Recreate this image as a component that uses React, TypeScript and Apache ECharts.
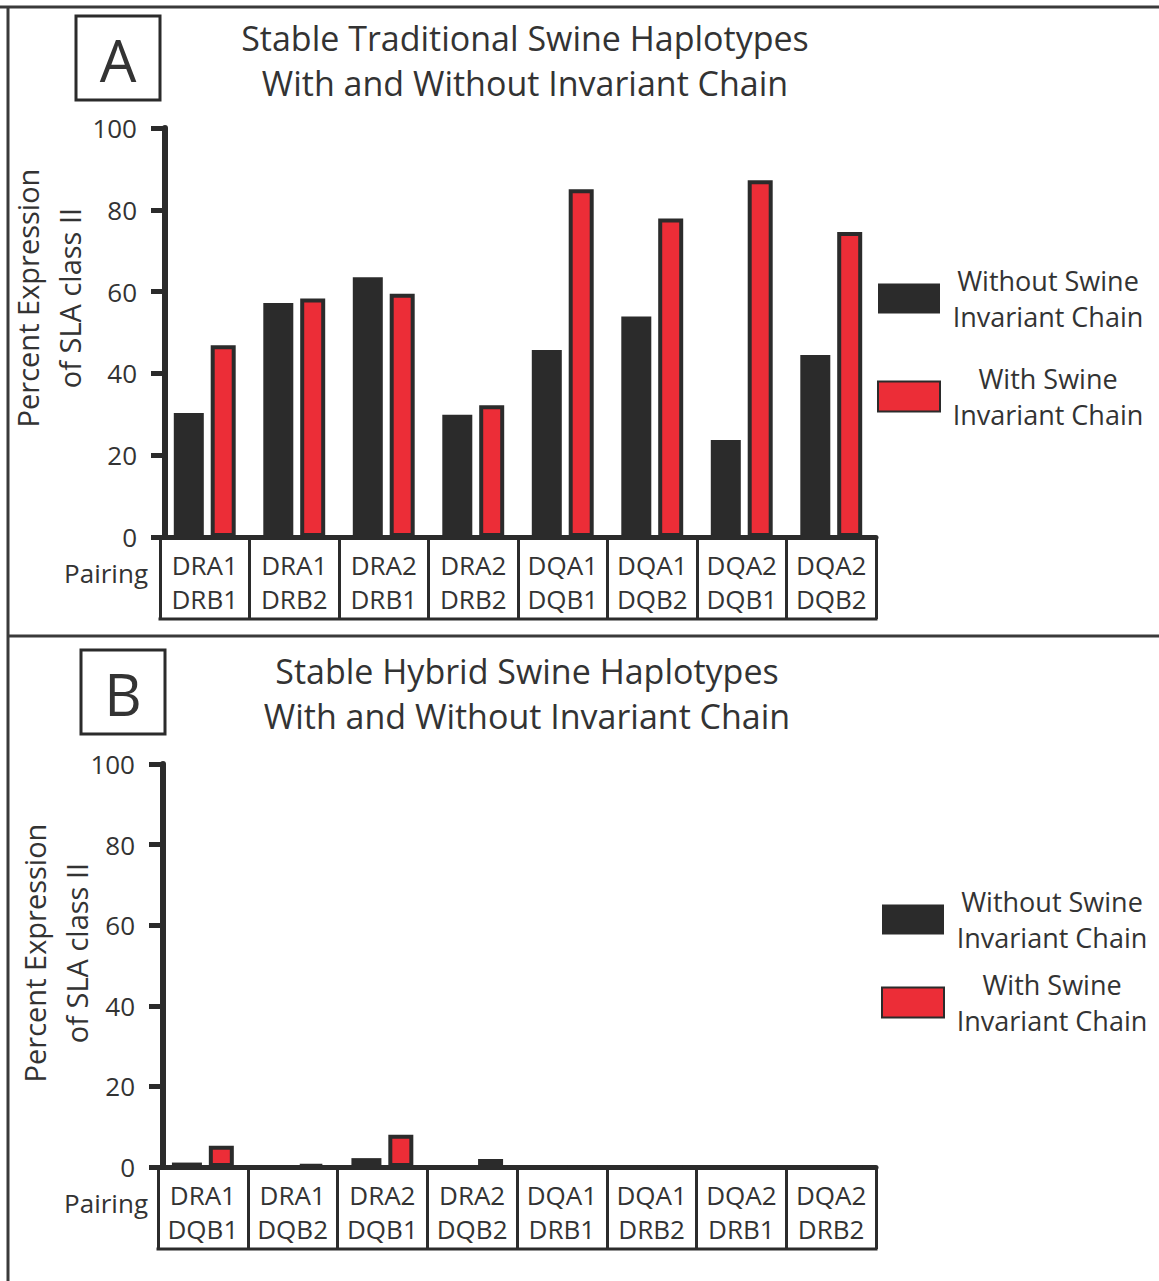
import React, { useEffect, useRef } from "react";
import * as echarts from "echarts";

const FONT = "'Open Sans', 'Noto Sans', sans-serif";
const TXT = "#333333";
const DARK = "#2b2b2b";
const RED = "#ec2d37";

const SERIES_WITHOUT = "Without Swine Invariant Chain";
const SERIES_WITH = "With Swine Invariant Chain";
const LEGEND_LINES: Record<string, string[]> = {
  [SERIES_WITHOUT]: ["Without Swine", "Invariant Chain"],
  [SERIES_WITH]: ["With Swine", "Invariant Chain"],
};

const titleA = "Stable Traditional Swine Haplotypes\nWith and Without Invariant Chain";
const titleB = "Stable Hybrid Swine Haplotypes\nWith and Without Invariant Chain";

const categoriesA = ["DRA1\nDRB1", "DRA1\nDRB2", "DRA2\nDRB1", "DRA2\nDRB2", "DQA1\nDQB1", "DQA1\nDQB2", "DQA2\nDQB1", "DQA2\nDQB2"];
const withoutA = [30.3, 57.2, 63.5, 29.9, 45.7, 53.9, 23.7, 44.5];
const withA = [46.9, 58.3, 59.5, 32.2, 85.0, 77.9, 87.2, 74.6];

const categoriesB = ["DRA1\nDQB1", "DRA1\nDQB2", "DRA2\nDQB1", "DRA2\nDQB2", "DQA1\nDRB1", "DQA1\nDRB2", "DQA2\nDRB1", "DQA2\nDRB2"];
const withoutB = [1.1, 0, 2.2, 0, 0, 0, 0, 0];
const withB = [5.3, 0.6, 8.0, 2.0, 0, 0, 0, 0];

const yTicks = { min: 0, max: 100, interval: 20 };
const yName = "Percent Expression\nof SLA class II";
const pairingLabel = "Pairing";

const W = 1159;
const H = 1281;

const gridA = { left: 160, top: 128, width: 716, height: 409 };
const gridB = { left: 158, top: 764, width: 718, height: 403 };
const BOX_H = 82;

function xAxisFor(gridIndex: number, data: string[]) {
  return {
    type: "category",
    gridIndex,
    data,
    axisLine: { lineStyle: { color: DARK, width: 5 } },
    axisTick: { show: true, length: BOX_H, interval: 0, lineStyle: { color: DARK, width: 3 } },
    axisLabel: {
      interval: 0,
      margin: 11,
      fontSize: 26,
      lineHeight: 34,
      color: TXT,
      fontFamily: FONT,
    },
    splitLine: { show: false },
  };
}

function yAxisFor(gridIndex: number) {
  return {
    type: "value",
    gridIndex,
    min: yTicks.min,
    max: yTicks.max,
    interval: yTicks.interval,
    offset: -5,
    axisLine: { show: true, lineStyle: { color: DARK, width: 6 } },
    axisTick: { show: true, length: 14, lineStyle: { color: DARK, width: 5 } },
    axisLabel: { fontSize: 26, color: TXT, fontFamily: FONT, margin: 28 },
    splitLine: { show: false },
  };
}

function barsFor(idx: number, without: number[], withv: number[]) {
  return [
    {
      type: "bar",
      name: SERIES_WITHOUT,
      xAxisIndex: idx,
      yAxisIndex: idx,
      data: without,
      barWidth: 30,
      barGap: "23%",
      itemStyle: { color: DARK },
    },
    {
      type: "bar",
      name: SERIES_WITH,
      xAxisIndex: idx,
      yAxisIndex: idx,
      data: withv,
      barWidth: 25,
      barGap: "23%",
      itemStyle: { color: RED, borderColor: DARK, borderWidth: 4 },
    },
  ];
}

function legendFor(left: number, top: number, gap: number) {
  return {
    orient: "vertical",
    left,
    top,
    padding: 0,
    itemGap: gap,
    itemWidth: 62,
    itemHeight: 30,
    selectedMode: false,
    icon: "rect",
    data: [
      { name: SERIES_WITHOUT, itemStyle: { borderWidth: 0 } },
      { name: SERIES_WITH, itemStyle: { borderWidth: 2, borderColor: DARK } },
    ],
    formatter: (name: string) => (LEGEND_LINES[name] || [name]).map((l) => `{a|${l}}`).join("\n"),
    textStyle: {
      rich: {
        a: { width: 206, align: "center", fontSize: 27, lineHeight: 36, color: TXT, fontFamily: FONT },
      },
    },
  };
}

function letterBox(x: number, y: number, letter: string) {
  return [
    {
      type: "rect",
      shape: { x, y, width: 84, height: 84 },
      style: { fill: "none", stroke: DARK, lineWidth: 3 },
    },
    {
      type: "text",
      x: x + 42,
      y: y + 43,
      style: {
        text: letter,
        fontSize: 58,
        fontFamily: FONT,
        fill: TXT,
        textAlign: "center",
        textVerticalAlign: "middle",
      },
    },
  ];
}

function sideText(cx: number, cy: number) {
  return {
    type: "text",
    x: cx,
    y: cy,
    rotation: Math.PI / 2,
    style: {
      text: yName,
      fontSize: 29,
      lineHeight: 42,
      fontFamily: FONT,
      fill: TXT,
      textAlign: "center",
      textVerticalAlign: "middle",
    },
  };
}

function pairing(rightX: number, cy: number) {
  return {
    type: "text",
    x: rightX,
    y: cy,
    style: {
      text: pairingLabel,
      fontSize: 26,
      fontFamily: FONT,
      fill: TXT,
      textAlign: "right",
      textVerticalAlign: "middle",
    },
  };
}

function boxBottom(g: { left: number; top: number; width: number; height: number }) {
  const y = g.top + g.height + BOX_H;
  return {
    type: "line",
    shape: { x1: g.left - 1.5, y1: y, x2: g.left + g.width + 1.5, y2: y },
    style: { stroke: DARK, lineWidth: 3 },
  };
}

const titleStyle = { fontSize: 34, lineHeight: 45, fontWeight: "normal", color: TXT, fontFamily: FONT };

export default function App() {
  const ref = useRef<HTMLDivElement>(null);
  useEffect(() => {
    if (!ref.current) return;
    const chart = echarts.init(ref.current, undefined, { renderer: "svg" });
    const option: any = {
      animation: false,
      backgroundColor: "#ffffff",
      title: [
        { text: titleA, left: 525, top: 15, padding: 0, textAlign: "center", textStyle: titleStyle },
        { text: titleB, left: 527, top: 648, padding: 0, textAlign: "center", textStyle: titleStyle },
      ],
      legend: [legendFor(877, 267, 35), legendFor(881, 888, 20)],
      grid: [
        { ...gridA, containLabel: false },
        { ...gridB, containLabel: false },
      ],
      xAxis: [xAxisFor(0, categoriesA), xAxisFor(1, categoriesB)],
      yAxis: [yAxisFor(0), yAxisFor(1)],
      series: [...barsFor(0, withoutA, withA), ...barsFor(1, withoutB, withB)],
      graphic: [
        { type: "line", shape: { x1: 0, y1: 7, x2: W, y2: 7 }, style: { stroke: "#3a3a3a", lineWidth: 3 } },
        { type: "line", shape: { x1: 8, y1: 6, x2: 8, y2: H }, style: { stroke: "#3a3a3a", lineWidth: 3 } },
        { type: "line", shape: { x1: 8, y1: 636, x2: W, y2: 636 }, style: { stroke: "#3a3a3a", lineWidth: 3 } },
        ...letterBox(76, 16, "A"),
        ...letterBox(81, 650, "B"),
        sideText(48, 298),
        sideText(55, 953),
        pairing(148, 573),
        pairing(148, 1203),
        boxBottom(gridA),
        boxBottom(gridB),
      ],
    };
    chart.setOption(option);
    return () => chart.dispose();
  }, []);
  return (
    <div
      ref={ref}
      style={{ position: "absolute", left: 0, top: 0, width: W, height: H, background: "#fff" }}
    />
  );
}
